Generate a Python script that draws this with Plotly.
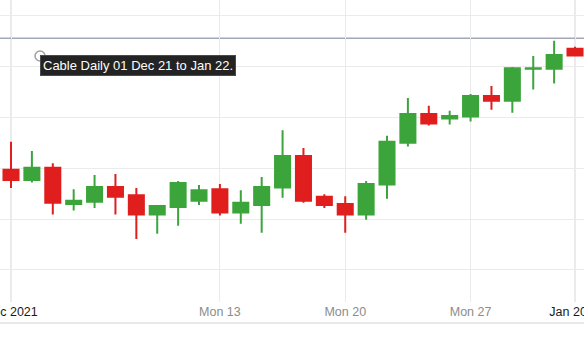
import plotly.graph_objects as go

# ---- data (GBP/USD daily) ----
dates = ["2021-12-01", "2021-12-02", "2021-12-03", "2021-12-05", "2021-12-06", "2021-12-07",
         "2021-12-08", "2021-12-09", "2021-12-10", "2021-12-12", "2021-12-13", "2021-12-14",
         "2021-12-15", "2021-12-16", "2021-12-17", "2021-12-19", "2021-12-20", "2021-12-21",
         "2021-12-22", "2021-12-23", "2021-12-24", "2021-12-26", "2021-12-27", "2021-12-28",
         "2021-12-29", "2021-12-30", "2021-12-31", "2022-01-02"]
opens = [1.3297, 1.3277, 1.3301, 1.3230, 1.3234, 1.3263, 1.3247, 1.3209, 1.3224, 1.3236,
         1.3259, 1.3213, 1.3228, 1.3262, 1.3324, 1.3244, 1.3230, 1.3209, 1.3268, 1.3350,
         1.3407, 1.3398, 1.3402, 1.3442, 1.3433, 1.3496, 1.3496, 1.3535]
highs = [1.3352, 1.3334, 1.3310, 1.3259, 1.3287, 1.3289, 1.3261, 1.3226, 1.3275, 1.3267,
         1.3269, 1.3257, 1.3283, 1.3375, 1.3340, 1.3249, 1.3245, 1.3275, 1.3364, 1.3438,
         1.3423, 1.3413, 1.3446, 1.3462, 1.3499, 1.3521, 1.3551, 1.3539]
lows = [1.3261, 1.3272, 1.3209, 1.3217, 1.3222, 1.3209, 1.3161, 1.3171, 1.3187, 1.3228,
        1.3207, 1.3191, 1.3173, 1.3242, 1.3232, 1.3222, 1.3173, 1.3199, 1.3240, 1.3343,
        1.3384, 1.3386, 1.3392, 1.3415, 1.3409, 1.3455, 1.3467, 1.3520]
closes = [1.3277, 1.3301, 1.3232, 1.3236, 1.3263, 1.3244, 1.3209, 1.3226, 1.3271, 1.3257,
          1.3213, 1.3232, 1.3263, 1.3324, 1.3236, 1.3228, 1.3209, 1.3269, 1.3352, 1.3407,
          1.3388, 1.3403, 1.3442, 1.3433, 1.3497, 1.3497, 1.3523, 1.3522]

tick_dates = ["2021-12-01", "2021-12-13", "2021-12-20", "2021-12-27", "2022-01-02"]
tick_labels = ['<span style="color:#1a1a1a">Dec 2021</span>', "Mon 13", "Mon 20", "Mon 27",
               '<span style="color:#1a1a1a">Jan 2022</span>']
month_dates = ["2021-12-01", "2022-01-02"]
last_price = 1.3556
title_text = "Cable Daily 01 Dec 21 to Jan 22."

GREEN = "#3ba53b"
RED = "#e01e1e"

W, H = 584, 342
PLOT_H = 302

fig = go.Figure(go.Candlestick(
    x=dates, open=opens, high=highs, low=lows, close=closes,
    increasing=dict(line=dict(color=GREEN, width=2), fillcolor=GREEN),
    decreasing=dict(line=dict(color=RED, width=2), fillcolor=RED),
    whiskerwidth=0, hoverinfo="skip",
))

shapes = []
# darker month separators
for d in month_dates:
    shapes.append(dict(type="line", xref="x", yref="paper", x0=dates.index(d), x1=dates.index(d),
                       y0=0, y1=1, line=dict(color="#d6d6d6", width=1), layer="below"))
# last price line
shapes.append(dict(type="line", xref="paper", yref="y", x0=0, x1=1, y0=last_price, y1=last_price,
                   line=dict(color="#a3a7b7", width=1.5), layer="below"))
# bottom border line
yb = -(323 - PLOT_H) / PLOT_H
shapes.append(dict(type="line", xref="paper", yref="paper", x0=0, x1=1, y0=yb, y1=yb,
                   line=dict(color="#dfe3e6", width=1.5)))
# small handle circle at label corner
cx, cy, r = 40, 56, 5
shapes.append(dict(type="circle", xref="paper", yref="paper",
                   x0=(cx - r) / W, x1=(cx + r) / W,
                   y0=1 - (cy + r) / PLOT_H, y1=1 - (cy - r) / PLOT_H,
                   line=dict(color="#a0a0a0", width=1.5), fillcolor="rgba(255,255,255,0)",
                   layer="above"))

fig.update_layout(
    width=W, height=H,
    margin=dict(l=0, r=0, t=0, b=H - PLOT_H, autoexpand=False),
    paper_bgcolor="white", plot_bgcolor="white",
    showlegend=False,
    boxgap=0.28, boxgroupgap=0,
    font=dict(family="Liberation Sans, Arial, sans-serif"),
    shapes=shapes,
    annotations=[dict(
        text=title_text, xref="paper", yref="paper",
        x=40 / W, y=1 - 55 / PLOT_H, xanchor="left", yanchor="top",
        showarrow=False, font=dict(color="white", size=13, family="Liberation Sans, Arial"),
        bgcolor="#232323", bordercolor="#4a4a4a", borderwidth=1, borderpad=2,
    )],
    xaxis=dict(
        type="category", range=[-0.527, 27.43], automargin=False,
        rangeslider=dict(visible=False),
        tickmode="array", tickvals=tick_dates, ticktext=tick_labels,
        tickfont=dict(size=12.5, color="#8c8c8c"),
        showgrid=True, gridcolor="#ebebeb", gridwidth=1,
        zeroline=False, showline=False, ticks="", ticklabeloverflow="allow",
        fixedrange=True,
    ),
    yaxis=dict(
        range=[1.3037, 1.3631], dtick=0.01, tick0=1.30, automargin=False,
        showgrid=True, gridcolor="#ebebeb", gridwidth=1,
        showticklabels=False, zeroline=False, showline=False, ticks="",
        fixedrange=True,
    ),
)

fig.write_html("out.html", config={"displayModeBar": False})
